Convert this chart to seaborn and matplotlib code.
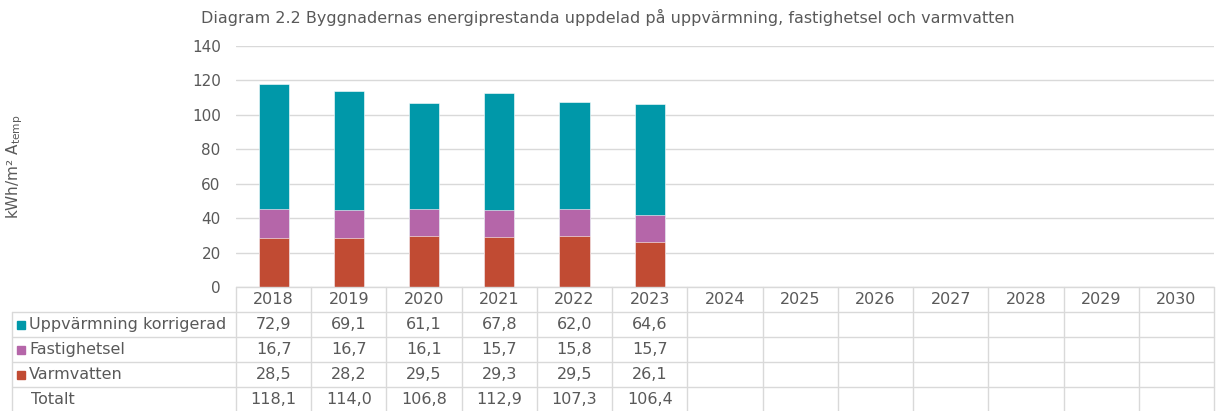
import pandas as pd
import seaborn as sns
import matplotlib.pyplot as plt
from matplotlib.patches import Rectangle

# Data
years = [str(y) for y in range(2018, 2031)]
data_years = years[:6]
uppvarmning = [72.9, 69.1, 61.1, 67.8, 62.0, 64.6]
fastighetsel = [16.7, 16.7, 16.1, 15.7, 15.8, 15.7]
varmvatten = [28.5, 28.2, 29.5, 29.3, 29.5, 26.1]
totalt = [118.1, 114.0, 106.8, 112.9, 107.3, 106.4]

labels = ['Uppvärmning korrigerad', 'Fastighetsel', 'Varmvatten']
colors = ['#0098A9', '#B566A9', '#C14B33']
grey = '#595959'
linec = '#D9D9D9'

sns.set_theme(style='white')
plt.rcParams['font.family'] = ['DejaVu Sans']

df = pd.DataFrame({'year': data_years, 'upp': uppvarmning,
                   'fast': fastighetsel, 'varm': varmvatten})
# stapla genom att rita kumulativa höjder ovanpå varandra
df['lvl2'] = df['varm'] + df['fast']
df['lvl3'] = df['lvl2'] + df['upp']

W, H = 1221, 411
fig = plt.figure(figsize=(W / 100, H / 100), dpi=100)
ax = fig.add_axes([236 / W, 1 - 287 / H, (1214 - 236) / W, (287 - 46) / H])

for col, c in zip(['lvl3', 'lvl2', 'varm'], colors):
    sns.barplot(data=df, x='year', y=col, order=years, color=c, width=0.4,
                saturation=1, errorbar=None, edgecolor='white', linewidth=0.4,
                ax=ax, zorder=3)

ax.set_ylim(0, 140)
ax.set_xlim(-0.5, 12.5)
ax.set_yticks(range(0, 141, 20))
ax.yaxis.grid(True, color=linec, linewidth=1)
ax.set_axisbelow(True)
for s in ax.spines.values():
    s.set_visible(False)
ax.set_xticks([])
ax.set_xlabel('')
ax.set_ylabel('')
ax.tick_params(axis='y', length=0, pad=11, labelsize=11, labelcolor=grey)

fig.text(608 / W, 1 - 17 / H,
         'Diagram 2.2 Byggnadernas energiprestanda uppdelad på uppvärmning, fastighetsel och varmvatten',
         ha='center', va='center', fontsize=11.5, color=grey)
fig.text(15 / W, 1 - 167 / H, 'kWh/m² A$_\\mathregular{temp}$', rotation=90,
         ha='center', va='center', fontsize=11, color=grey)

# Tabell under diagrammet
tax = fig.add_axes([0, 0, 1, 1])
tax.set_xlim(0, W)
tax.set_ylim(H, 0)
tax.axis('off')

x0, colw = 236, (1214 - 236) / 13
rows_y = [287, 312, 337, 362, 387]
tax.plot([x0, 1214], [287, 287], color=linec, lw=1)
for y in rows_y[1:]:
    tax.plot([12, 1214], [y, y], color=linec, lw=1)
tax.plot([12, 12], [312, H], color=linec, lw=1)
for k in range(14):
    xk = x0 + colw * k
    tax.plot([xk, xk], [287, H], color=linec, lw=1)

fmt = lambda v: f'{v:.1f}'.replace('.', ',')
fs = 11.5
for i, yr in enumerate(years):
    tax.text(x0 + colw * (i + 0.5), 299.5, yr, ha='center', va='center',
             fontsize=fs, color=grey)

series = [uppvarmning, fastighetsel, varmvatten, totalt]
row_names = labels + ['Totalt']
for r, (name, vals) in enumerate(zip(row_names, series)):
    yc = 324.5 + 25 * r
    if r < 3:
        tax.add_patch(Rectangle((17, yc - 4), 8, 8, color=colors[r]))
        tax.text(29, yc, name, ha='left', va='center', fontsize=fs, color=grey)
    else:
        tax.text(31, yc, name, ha='left', va='center', fontsize=fs, color=grey)
    for i, v in enumerate(vals):
        tax.text(x0 + colw * (i + 0.5), yc, fmt(v), ha='center', va='center',
                 fontsize=fs, color=grey)

fig.savefig('out.png', dpi=100)
